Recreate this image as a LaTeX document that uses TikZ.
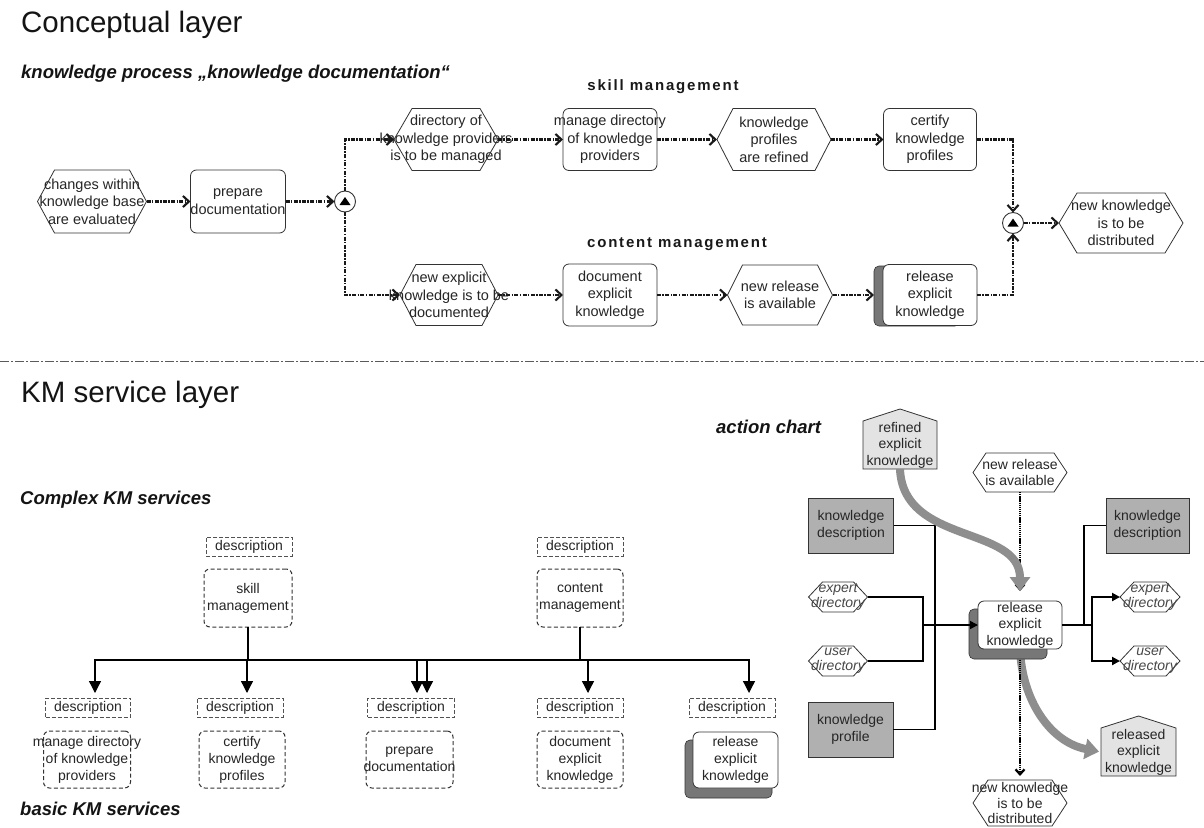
\documentclass[tikz,border=0pt]{standalone}
\usepackage{fontspec}
\setmainfont{Liberation Sans}
\usetikzlibrary{arrows.meta,backgrounds}

\definecolor{ink}{HTML}{262626}
\definecolor{edge}{HTML}{333333}
\definecolor{boxgray}{HTML}{B0B0B0}
\definecolor{palegray}{HTML}{E3E3E3}
\definecolor{shadowgray}{HTML}{777777}
\definecolor{flowgray}{HTML}{8E8E8E}
\definecolor{sepgray}{HTML}{5A5A5A}

\newcommand\fs[2]{\fontsize{#1}{#2}\selectfont}

\tikzset{
  anchorbox/.style={rectangle, draw=none, inner sep=0pt, outer sep=0pt},
  hexline/.style={draw=edge, line width=0.8pt, fill=white},
  houseline/.style={draw=edge, line width=0.8pt, fill=palegray},
  lbl/.style={text=ink, align=center, inner sep=0pt, font=\fs{14.5}{17.5}},
  itlbl/.style={font=\fs{14}{15}\itshape, text=black!72},
  funcbox/.style={rectangle, rounded corners=6pt, draw=edge, line width=0.8pt, fill=white, inner sep=0pt, outer sep=0pt},
  shadowbox/.style={rectangle, rounded corners=5pt, draw=edge, line width=0.6pt, fill=shadowgray, inner sep=0pt, outer sep=0pt},
  descbox/.style={sharp corners, draw=edge!85, line width=0.9pt, dash pattern=on 4pt off 2pt, fill=white},
  svcbox/.style={draw=edge, line width=1pt, dash pattern=on 4pt off 2.5pt, fill=white},
  greybox/.style={sharp corners, draw=edge, line width=0.8pt, fill=boxgray},
  opcirc/.style={circle, draw=edge, line width=0.9pt, fill=white, minimum size=21pt, inner sep=0pt, outer sep=0pt},
  heading/.style={anchor=base west, inner sep=0pt, text=black!92},
  lane/.style={anchor=base, inner sep=0pt, text=black!90, font=\fs{15}{18}\bfseries\addfontfeatures{LetterSpace=12}},
  flow/.style={draw=black!90, line width=2.1pt, dash pattern=on 4pt off 1.4pt on 1.4pt off 1.4pt, -{Straight Barb[length=6pt,width=11pt]}},
  sepline/.style={draw=sepgray, line width=1pt, dash pattern=on 9pt off 2pt on 2pt off 2pt},
  busline/.style={draw=black, line width=1.3pt},
  busarrow/.style={draw=black, line width=1.3pt, -{Triangle[length=12pt,width=12pt]}, shorten >=5pt},
  thinln/.style={draw=black, line width=1.1pt},
  medln/.style={draw=black, line width=1.5pt},
  thickln/.style={draw=black, line width=2.4pt},
  smalltip/.style={-{Triangle[length=8pt,width=8pt]}},
  dotflow/.style={draw=black, line width=2.3pt, dash pattern=on 1.3pt off 0.8pt, -{Straight Barb[length=5pt,width=9pt]}},
  kflow/.style={draw=flowgray, line width=8pt, -{Triangle[length=14pt,width=20pt]}},
}

% event: hexagon with its text set over it
\newcommand\hexev[8][]{%
  \node[anchorbox, minimum width=#5pt, minimum height=#6pt] (#2) at (#3,#4) {};
  \draw[hexline] (#2.west) -- ([xshift=#7pt]#2.north west) -- ([xshift=-#7pt]#2.north east)
    -- (#2.east) -- ([xshift=-#7pt]#2.south east) -- ([xshift=#7pt]#2.south west) -- cycle;
  \node[lbl,#1] (#2-t) at (#2) {#8};
}
% function / service box with its text
\newcommand\funcnode[7][]{%
  \node[funcbox, minimum width=#5pt, minimum height=#6pt, #1] (#2) at (#3,#4) {};
  \node[lbl] (#2-t) at (#2) {#7};
}
% knowledge product: box with a pointed roof
\newcommand\housenode[7][]{%
  \node[anchorbox, minimum width=#5pt, minimum height=#6pt] (#2) at (#3,#4) {};
  \draw[houseline,#1] (#2.south west) -- (#2.north west) -- ([yshift=12pt]#2.north)
    -- (#2.north east) -- (#2.south east) -- cycle;
  \node[lbl] (#2-t) at (#2) {#7};
}
% AND operator
\newcommand\opnode[3]{%
  \node[opcirc] (#1) at (#2,#3) {};
  \fill[black] ([shift={(-5.5pt,-3.5pt)}]#1.center) -- ([shift={(5.5pt,-3.5pt)}]#1.center)
    -- ([shift={(0pt,4.5pt)}]#1.center) -- cycle;
}

\begin{document}
\begin{tikzpicture}[x=1pt,y=-1pt]
\useasboundingbox (0,0) rectangle (1204,827);

% ---------------- conceptual layer ----------------
\node[heading, font=\fs{29.5}{34}] (title1) at (21,32) {Conceptual layer};
\node[heading, font=\fs{18.5}{22}\bfseries\itshape] (proc) at (21,78) {knowledge process „knowledge documentation“};
\node[lane] (lane1) at (663,90) {skill management};
\node[lane] (lane2) at (677,247) {content management};

\hexev{ev1}{92}{201.5}{109}{63}{17}{changes within\\knowledge base\\are evaluated}
\funcnode{fn1}{238}{201.5}{95}{63}{prepare\\documentation}
\opnode{op1}{345}{201.5}
\hexev{ev2}{446}{139.5}{104}{62}{18}{directory of\\knowledge providers\\is to be managed}
\funcnode{fn2}{610}{139.5}{94}{62}{manage directory\\of knowledge\\providers}
\hexev{ev4}{774}{139.5}{114}{62}{16}{knowledge\\profiles\\are refined}
\funcnode{fn3}{930}{139.5}{93}{62}{certify\\knowledge\\profiles}
\hexev{ev3}{449}{295}{98}{61}{16}{new explicit\\knowledge is to be\\documented}
\funcnode{fn5}{610}{295}{94}{62}{document\\explicit\\knowledge}
\hexev{ev5}{780}{295}{105}{60}{15}{new release\\is available}
\node[shadowbox, minimum width=86pt, minimum height=60pt] (fn4-s) at (917,296) {};
\funcnode{fn4}{930}{295}{94}{61}{release\\explicit\\knowledge}
\opnode{op2}{1013}{223}
\hexev{ev6}{1121}{223}{124}{60}{18}{new knowledge\\is to be\\distributed}

\draw[flow] (ev1.east) -- (fn1.west);
\draw[flow] (fn1.east) -- (op1.west);
\draw[flow] (op1.north) |- (ev2.west);
\draw[flow] (op1.south) |- (ev3.west);
\draw[flow] (ev2.east) -- (fn2.west);
\draw[flow] (fn2.east) -- (ev4.west);
\draw[flow] (ev4.east) -- (fn3.west);
\draw[flow] (ev3.east) -- (fn5.west);
\draw[flow] (fn5.east) -- (ev5.west);
\draw[flow] (ev5.east) -- (ev5.east -| fn4-s.west);
\draw[flow] (fn3.east) -| (op2.north);
\draw[flow] (fn4.east) -| (op2.south);
\draw[flow] (op2.east) -- (ev6.west);

% layer separator
\coordinate (sepL) at (0,361);
\coordinate (sepR) at (1204,361);
\draw[sepline] (sepL) -- (sepR);

% ---------------- KM service layer ----------------
\node[heading, font=\fs{29.5}{34}] (title2) at (21,402) {KM service layer};
\node[heading, font=\fs{18.5}{22}\bfseries\itshape] (cplx) at (20,504) {Complex KM services};
\node[heading, font=\fs{18.5}{22}\bfseries\itshape] (basic) at (20,815) {basic KM services};

\begin{scope}[lbl/.append style={font=\fs{14}{17}}]
\funcnode[descbox]{ds0}{249}{546.5}{86}{19}{description}
\funcnode[svcbox]{sk0}{248}{598}{88}{58}{skill\\management}
\funcnode[descbox]{dc0}{580}{546.5}{86}{19}{description}
\funcnode[svcbox]{cm0}{580}{598}{86}{58}{content\\management}

\funcnode[descbox]{d1}{88}{707.5}{85}{19}{description}
\funcnode[descbox]{d2}{240}{707.5}{86}{19}{description}
\funcnode[descbox]{d3}{411}{707.5}{87}{19}{description}
\funcnode[descbox]{d4}{580}{707.5}{86}{19}{description}
\funcnode[descbox]{d5}{732}{707.5}{86}{19}{description}

\funcnode[svcbox]{s1}{87}{759.5}{87}{57}{manage directory\\of knowledge\\providers}
\funcnode[svcbox]{s2}{242}{759.5}{86}{57}{certify\\knowledge\\profiles}
\funcnode[svcbox]{s3}{409.5}{759.5}{87}{57}{prepare\\documentation}
\funcnode[svcbox]{s4}{580}{759.5}{86}{57}{document\\explicit\\knowledge}
\node[shadowbox, minimum width=87pt, minimum height=58pt] (s5-s) at (728.5,769) {};
\funcnode{s5}{735.5}{760}{85}{56}{release\\explicit\\knowledge}
\end{scope}

\coordinate (skj) at (248,660);
\coordinate (cmj) at (580,660);
\draw[busline] (sk0.south) -- (skj);
\draw[busline] (cm0.south) -- (cmj);
\draw[busarrow] (skj) -| ([xshift=7pt]d1.north);
\draw[busarrow] (skj) -| ([xshift=7pt]d2.north);
\draw[busarrow] (skj) -| ([xshift=16pt]d3.north);
\draw[busarrow] (cmj) -| ([xshift=6pt]d3.north);
\draw[busarrow] (cmj) -| ([xshift=8pt]d4.north);
\draw[busarrow] (cmj) -| ([xshift=17pt]d5.north);

% ---------------- action chart ----------------
\node[heading, font=\fs{18.5}{22}\bfseries\itshape] (achart) at (716,433) {action chart};

\begin{scope}[lbl/.append style={font=\fs{14}{16.5}}]
\housenode{refd}{900}{445}{74}{48}{refined\\explicit\\knowledge}
\hexev{nr}{1020}{472.5}{94}{39}{13}{new release\\is available}
\funcnode[greybox]{kdl}{851}{525.5}{85}{55}{knowledge\\description}
\funcnode[greybox]{kdr}{1147.5}{525.5}{83}{55}{knowledge\\description}
\hexev[itlbl]{exl}{838}{597}{59}{30}{14}{expert\\directory}
\hexev[itlbl]{usl}{838}{661}{59}{30}{14}{user\\directory}
\hexev[itlbl]{exr}{1150}{597}{60}{30}{14}{expert\\directory}
\hexev[itlbl]{usr}{1150}{661}{60}{30}{14}{user\\directory}
\node[shadowbox, minimum width=78pt, minimum height=50pt] (rel-s) at (1008,634) {};
\funcnode{rel}{1020}{625}{84}{48}{release\\explicit\\knowledge}
\funcnode[greybox]{kp}{850.5}{729.5}{85}{55}{knowledge\\profile}
\housenode{rlsd}{1138.5}{752}{75}{48}{released\\explicit\\knowledge}
\hexev[font=\fs{14}{15.5}]{nk}{1020}{803}{94}{46}{15}{new knowledge\\is to be\\distributed}
\end{scope}

\coordinate (j1) at (935,625);
\coordinate (j2) at (923,625);
\coordinate (j3) at (1092,625);
\coordinate (j4) at (1084,625);
\draw[thinln] (kdl.east) -| (j1);
\draw[thinln] (kp.east) -| (j1);
\draw[medln] (exl.east) -| (j2);
\draw[thickln] (usl.east) -| (j2);
\draw[medln, smalltip] (j2) -- (rel.west);
\draw[medln] (rel.east) -- (j3);
\draw[thinln] (kdr.west) -| (j4);
\draw[thickln, smalltip] (j3) |- (exr.west);
\draw[thickln, smalltip] (j3) |- (usr.west);

\draw[dotflow, shorten >=10pt] (nr.south) -- (rel.north);
\draw[kflow, shorten >=10pt] (refd.south) .. controls (903,545) and (1020,525) .. (rel.north);

\begin{scope}[on background layer]
  \fill[white] (0,0) rectangle (1204,827);
  \draw[kflow, shorten >=2pt] (rel.south) .. controls (1022,700) and (1050,742) .. (rlsd.west);
  \draw[dotflow, shorten >=4pt] (rel.south) -- (nk.north);
\end{scope}
\end{tikzpicture}
\end{document}
